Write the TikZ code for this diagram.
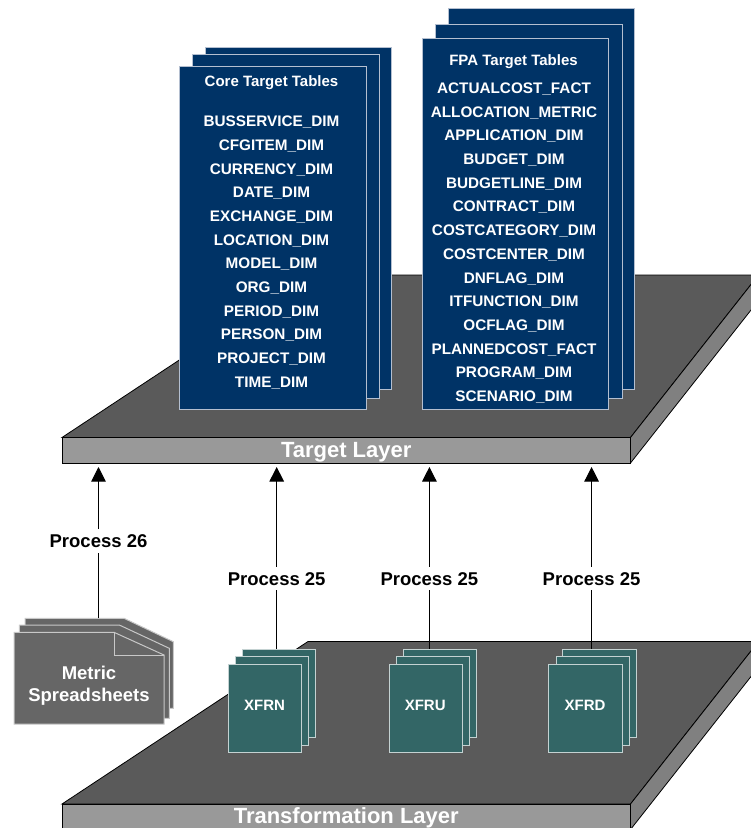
\documentclass[tikz,border=0pt]{standalone}
\usepackage{fontspec}
\setmainfont{Liberation Sans}
\usetikzlibrary{arrows.meta}

\definecolor{navy}{HTML}{003366}
\definecolor{navyedge}{HTML}{B4BFD0}
\definecolor{tealbox}{HTML}{336666}
\definecolor{tealedge}{HTML}{C4D2D2}
\definecolor{sheetgray}{HTML}{666666}
\definecolor{sheetedge}{HTML}{C8C8C8}
\definecolor{slabtop}{HTML}{5A5A5A}
\definecolor{slabfront}{HTML}{999999}
\definecolor{slabside}{HTML}{808080}

\begin{document}
\begin{tikzpicture}[x=1pt,y=-1pt,
  slab/.style={draw=black,line width=0.8pt,line join=miter},
  slabface/.style={slab,fill=slabfront,rectangle,inner sep=0pt,outer sep=0pt},
  slabtext/.style={text=white,font=\bfseries\fontsize{22}{24}\selectfont,inner sep=0pt},
  tblpage/.style={draw=navyedge,fill=navy,line width=1pt,rectangle,inner sep=0pt,outer sep=0pt,anchor=north west},
  xfrpage/.style={draw=tealedge,fill=tealbox,line width=1pt,rectangle,inner sep=0pt,outer sep=0pt,anchor=north west,minimum width=73.4pt,minimum height=88.4pt},
  sheetpage/.style={draw=sheetedge,fill=sheetgray,line width=1pt,line join=miter},
  tblhead/.style={text=white,font=\bfseries\fontsize{15}{17}\selectfont,inner sep=0pt,anchor=base},
  tblitem/.style={text=white,font=\bfseries\fontsize{15.3}{17}\selectfont,inner sep=0pt,anchor=base},
  boxtext/.style={text=white,font=\bfseries\fontsize{15}{17}\selectfont,inner sep=0pt,anchor=base},
  sheettext/.style={text=white,font=\bfseries\fontsize{18.5}{20}\selectfont,inner sep=0pt,anchor=base},
  proc/.style={fill=white,text=black,font=\bfseries\fontsize{18.5}{20}\selectfont,inner xsep=3pt,inner ysep=5.3pt,outer sep=0pt,anchor=base},
  flow/.style={draw=black,line width=1pt},
  uparrow/.style={flow,-{Triangle[width=14.5pt,length=14.5pt]},shorten >=4pt}
]
\useasboundingbox (0,0) rectangle (751,828);
\clip (0,0) rectangle (751,828);

% ---------------- Target layer slab ----------------
\draw[slab,fill=slabtop] (62,437.5) -- (630.5,437.5) -- (758.5,275) -- (308,275) -- cycle;
\draw[slab,fill=slabside] (630.5,437.5) -- (758.5,275) -- (758.5,300.5) -- (630.5,463) -- cycle;
\node[slabface,minimum width=568.5pt,minimum height=25.5pt,anchor=north west] (target) at (62,437.5) {};
\node[slabtext,anchor=base] (targettxt) at (346.25,457.3) {Target Layer};

% ---------------- Core target tables ----------------
\node[tblpage,minimum width=186pt,minimum height=342pt] (core3) at (205,47) {};
\node[tblpage,minimum width=187pt,minimum height=344pt] (core2) at (192,54) {};
\node[tblpage,minimum width=187pt,minimum height=343pt] (core1) at (179,66) {};
\node[tblhead] (corehead) at (271.5,86) {Core Target Tables};
\foreach \t [count=\i] in {BUSSERVICE\_DIM,CFGITEM\_DIM,CURRENCY\_DIM,DATE\_DIM,EXCHANGE\_DIM,LOCATION\_DIM,MODEL\_DIM,ORG\_DIM,PERIOD\_DIM,PERSON\_DIM,PROJECT\_DIM,TIME\_DIM}
  \node[tblitem] (core-\i) at (271.5,{126.7+23.69*(\i-1)}) {\t};

% ---------------- FPA target tables ----------------
\node[tblpage,minimum width=186pt,minimum height=381pt] (fpa3) at (448,8) {};
\node[tblpage,minimum width=187pt,minimum height=374pt] (fpa2) at (435,24) {};
\node[tblpage,minimum width=186pt,minimum height=371pt] (fpa1) at (422,38) {};
\node[tblhead] (fpahead) at (513.5,65) {FPA Target Tables};
\foreach \t [count=\i] in {ACTUALCOST\_FACT,ALLOCATION\_METRIC,APPLICATION\_DIM,BUDGET\_DIM,BUDGETLINE\_DIM,CONTRACT\_DIM,COSTCATEGORY\_DIM,COSTCENTER\_DIM,DNFLAG\_DIM,ITFUNCTION\_DIM,OCFLAG\_DIM,PLANNEDCOST\_FACT,PROGRAM\_DIM,SCENARIO\_DIM}
  \node[tblitem] (fpa-\i) at (514,{93.3+23.72*(\i-1)}) {\t};

% ---------------- Transformation layer slab ----------------
\draw[slab,fill=slabtop] (62,804) -- (630.5,804) -- (758.5,641.5) -- (308,641.5) -- cycle;
\draw[slab,fill=slabside] (630.5,804) -- (758.5,641.5) -- (758.5,667) -- (630.5,829.5) -- cycle;
\node[slabface,minimum width=568.5pt,minimum height=25.5pt,anchor=north west] (transform) at (62,804) {};
\node[slabtext,anchor=base] (transformtxt) at (346.25,823.8) {Transformation Layer};

% ---------------- Transformation jobs ----------------
\foreach \dx/\nm in {0/XFRN,160.7/XFRU,320.6/XFRD} {
  \node[xfrpage] (\nm3) at ({242.3+\dx},649.3) {};
  \node[xfrpage] (\nm2) at ({235.5+\dx},656.6) {};
  \node[xfrpage] (\nm1) at ({228.3+\dx},664) {};
  \node[boxtext] (\nm txt) at ({264.5+\dx},710.9) {\nm};
}

% ---------------- Metric spreadsheets (stack of dog-eared pages) ----------------
\draw[sheetpage] (25,618.3) -- (124,618.3) -- (173.3,641.7) -- (173.3,708.3) -- (25,708.3) -- cycle;
\draw[sheetpage] (19.3,625) -- (119.3,625) -- (169.3,648.3) -- (169.3,718.3) -- (19.3,718.3) -- cycle;
\draw[sheetpage] (14,632.3) -- (114,632.3) -- (164,655) -- (164,724) -- (14,724) -- cycle;
\draw[sheetpage,fill=none] (114,632.3) -- (114,655) -- (164,655);
\coordinate (sheettop) at (98.5,618.3);
\node[sheettext] (sheettxt1) at (89,679.2) {Metric};
\node[sheettext] (sheettxt2) at (89,701.6) {Spreadsheets};

% ---------------- Process flows ----------------
\node[proc] (p26) at (98.5,547.3) {Process 26};
\node[proc] (p25a) at (276.7,585) {Process 25};
\node[proc] (p25b) at (429.4,585) {Process 25};
\node[proc] (p25c) at (591.6,585) {Process 25};

\draw[flow] (sheettop) -- (p26.south -| sheettop);
\draw[uparrow] (p26.north) -- (p26.north |- target.south);

\draw[flow] (p25a.south) -- (p25a.south |- XFRN3.north);
\draw[uparrow] (p25a.north) -- (p25a.north |- target.south);
\draw[flow] (p25b.south) -- (p25b.south |- XFRU3.north);
\draw[uparrow] (p25b.north) -- (p25b.north |- target.south);
\draw[flow] (p25c.south) -- (p25c.south |- XFRD3.north);
\draw[uparrow] (p25c.north) -- (p25c.north |- target.south);
\end{tikzpicture}
\end{document}
